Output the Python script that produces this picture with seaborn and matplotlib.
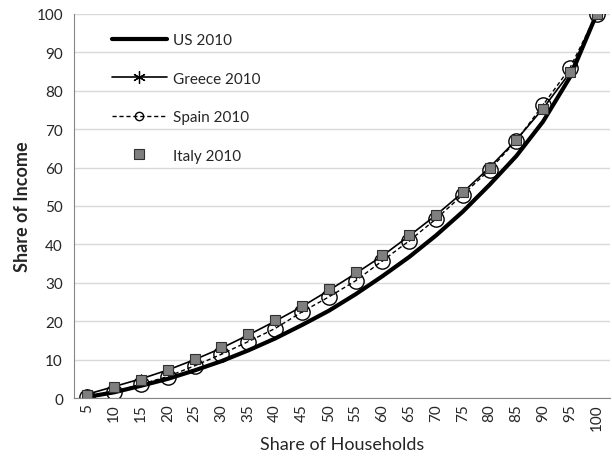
import matplotlib
matplotlib.use("Agg")
import matplotlib.pyplot as plt
import seaborn as sns

# Lorenz curves, 2010
households = ["5", "10", "15", "20", "25", "30", "35", "40", "45", "50",
              "55", "60", "65", "70", "75", "80", "85", "90", "95", "100"]
us_2010 = [0.3, 1.5, 3.2, 5.0, 7.2, 9.6, 12.4, 15.5, 19.0, 22.7,
           27.0, 31.7, 36.7, 42.3, 48.5, 55.5, 63.0, 72.0, 83.5, 100.0]
greece_2010 = [1.0, 3.0, 5.0, 7.3, 10.0, 13.0, 16.4, 20.0, 23.8, 28.0,
               32.4, 37.0, 42.2, 47.6, 53.5, 60.0, 67.2, 75.4, 84.7, 100.0]
spain_2010 = [0.3, 1.6, 3.6, 5.6, 8.4, 11.4, 14.7, 18.1, 22.4, 26.3,
              30.5, 35.7, 40.9, 46.6, 52.9, 59.4, 67.0, 76.3, 85.9, 100.0]
italy_2010 = [0.9, 2.8, 4.8, 7.3, 10.1, 13.2, 16.6, 20.3, 24.0, 28.4,
              32.8, 37.2, 42.4, 47.7, 53.6, 60.0, 67.2, 75.3, 84.9, 100.0]

sns.set_style("white")
plt.rcParams["font.family"] = ["Lato", "DejaVu Sans"]

fig = plt.figure(figsize=(6.12, 4.64), dpi=100)
ax = fig.add_axes([0.121, 0.140, 0.876, 0.828])

sns.lineplot(x=households, y=us_2010, ax=ax, color="black", linewidth=3,
             label="US 2010", sort=False)
sns.lineplot(x=households, y=greece_2010, ax=ax, color="black", linewidth=1.2,
             marker=(6, 2, 0), markersize=7, markeredgecolor="black",
             markeredgewidth=0.9, label="Greece 2010", sort=False)
sns.lineplot(x=households, y=spain_2010, ax=ax, color="black", linewidth=1,
             dashes=(3, 2), marker="o", markersize=11, markerfacecolor="none",
             markeredgecolor="black", markeredgewidth=1, label="Spain 2010", sort=False)
sns.lineplot(x=households, y=italy_2010, ax=ax, color="#7f7f7f", linestyle="none",
             marker="s", markersize=7, markeredgecolor="#303030", markeredgewidth=0.8,
             label="Italy 2010", sort=False)

ax.set_xlim(-0.5, len(households) - 0.5)
ax.set_ylim(0, 100)
ax.set_yticks(range(0, 101, 10))
ax.yaxis.grid(True, color="#d9d9d9", linewidth=1)
ax.set_axisbelow(True)
for side in ["top", "right"]:
    ax.spines[side].set_visible(False)
for side in ["left", "bottom"]:
    ax.spines[side].set_color("#868686")
ax.tick_params(axis="x", labelrotation=90, labelsize=11, length=0, pad=4)
ax.tick_params(axis="y", labelsize=11, length=0, pad=8)

ax.set_xlabel("Share of Households", fontsize=13)
ax.set_ylabel("Share of Income", fontsize=13, fontweight="bold")

leg = ax.legend(loc="upper left", bbox_to_anchor=(0.045, 0.985), frameon=False,
                fontsize=11, labelspacing=1.6, handlelength=3.6, handletextpad=0.4)
legend_marker_sizes = [0, 9, 6, 7]
for h, ms in zip(leg.legend_handles, legend_marker_sizes):
    h.set_markersize(ms)

plt.savefig("out.png", dpi=100)
